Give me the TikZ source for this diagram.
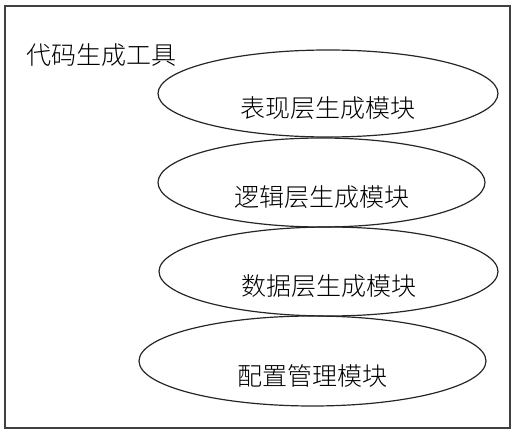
\documentclass[tikz,border=0pt]{standalone}
\usepackage{fontspec}
\setmainfont{Noto Sans CJK SC}[UprightFont={* Light}]
\usepackage{tikz}
\usetikzlibrary{shapes}

\begin{document}
\begin{tikzpicture}[x=1pt, y=-1pt, font=\fontsize{25}{29}\selectfont,
  modbox/.style={draw=black!85, ellipse, line width=1.2pt, inner sep=0pt},
  modtext/.style={inner sep=0pt, yshift=-14.5pt}]
\useasboundingbox (0,0) rectangle (515,433);
\draw[black!75, line width=1.4pt] (5,6) rectangle (510,428);
\node[name=title, anchor=base west, inner sep=0pt] at (26,64.5) {代码生成工具};
% modules
\node[modbox, name=m1, minimum width=340pt, minimum height=87pt] at (328,93.5) {};
\node[modbox, name=m2, minimum width=327pt, minimum height=89pt] at (321.5,182.5) {};
\node[modbox, name=m3, minimum width=339pt, minimum height=89pt] at (328.5,271.5) {};
\node[modbox, name=m4, minimum width=347pt, minimum height=90pt] at (312.5,361) {};
\node[modtext, name=t1] at (m1.center) {表现层生成模块};
\node[modtext, name=t2] at (m2.center) {逻辑层生成模块};
\node[modtext, name=t3] at (m3.center) {数据层生成模块};
\node[modtext, name=t4] at (m4.center) {配置管理模块};
\end{tikzpicture}
\end{document}
